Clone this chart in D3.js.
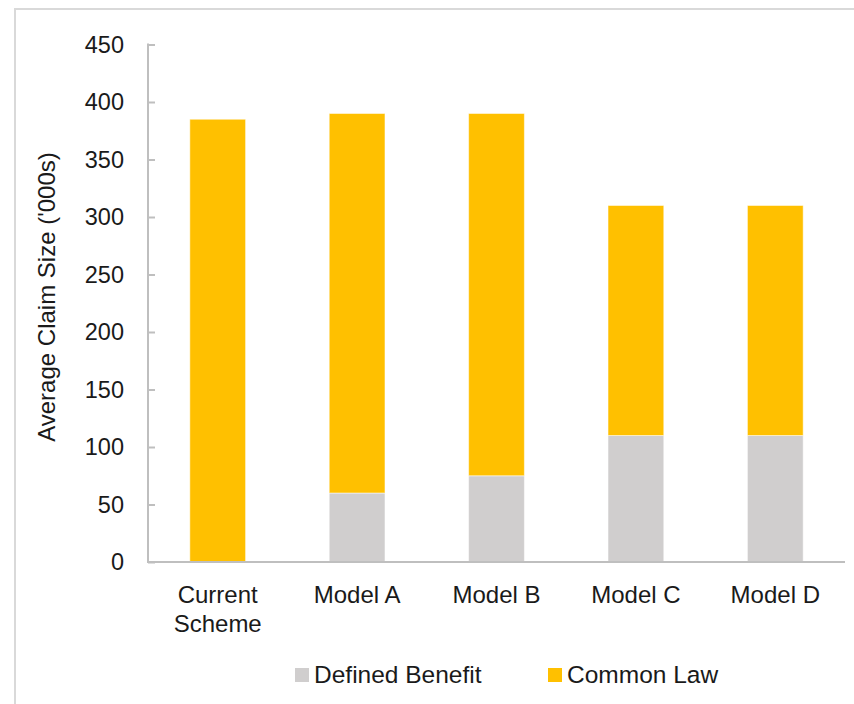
<!DOCTYPE html>
<html>
<head>
<meta charset="utf-8">
<script src="https://cdn.jsdelivr.net/npm/d3@7"></script>
<style>
  html, body { margin: 0; padding: 0; background: #fff; }
  svg { display: block; font-family: "Liberation Sans", Arial, sans-serif; }
</style>
</head>
<body>
<svg id="chart" width="854" height="704"></svg>
<script>
const categories = [["Current", "Scheme"], ["Model A"], ["Model B"], ["Model C"], ["Model D"]];
const seriesNames = ["Defined Benefit", "Common Law"];
const definedBenefit = [0, 60, 75, 110, 110];
const commonLaw = [385, 330, 315, 200, 200];
const yTicks = [0, 50, 100, 150, 200, 250, 300, 350, 400, 450];
const colors = ["#D0CECE", "#FFC000"];
const yTitle = "Average Claim Size ('000s)";

(function () {
const svg = d3.select("#chart");
const W = 854, H = 704;
const pLeft = 148, pRight = 845, pTop = 44.5, pBottom = 562;

// outer chart border (clipped on right/bottom)
svg.append("path")
  .attr("d", `M15,${H + 5} L15,9 L${W + 5},9`)
  .attr("fill", "none").attr("stroke", "#d9d9d9").attr("stroke-width", 2);

const keys = categories.map(c => c.join(" "));
const x = d3.scaleBand().domain(keys).range([pLeft, pRight]).paddingInner(0.6).paddingOuter(0.3);
const y = d3.scaleLinear().domain([0, 450]).range([pBottom, pTop]);

const rows = keys.map((k, i) => ({ key: k, db: definedBenefit[i], cl: commonLaw[i] }));
const stacked = d3.stack().keys(["db", "cl"])(rows);

const g = svg.append("g");
stacked.forEach((s, si) => {
  g.selectAll(null).data(s).join("rect")
    .attr("x", d => x(d.data.key))
    .attr("width", x.bandwidth())
    .attr("y", d => y(d[1]))
    .attr("height", d => Math.max(0, y(d[0]) - y(d[1])))
    .attr("fill", colors[si])
    .attr("stroke", "#ffffff").attr("stroke-opacity", 0.5).attr("stroke-width", 1);
});

// y axis
const yAxis = d3.axisRight(y).tickValues(yTicks).tickSize(7).tickFormat("");
const ya = svg.append("g").attr("transform", `translate(${pLeft},0)`).call(yAxis);
ya.select(".domain").remove();
ya.selectAll(".tick line").attr("stroke", "#bfbfbf").attr("stroke-width", 2);
svg.append("line").attr("x1", pLeft).attr("x2", pLeft).attr("y1", pTop - 1).attr("y2", pBottom + 1)
  .attr("stroke", "#bfbfbf").attr("stroke-width", 2);
svg.selectAll(null).data(yTicks).join("text")
  .attr("x", 124).attr("y", d => y(d)).attr("dy", "0.36em")
  .attr("text-anchor", "end").attr("font-size", 23.5).attr("fill", "#1a1a1a")
  .text(d => d);

// x axis
svg.append("line").attr("x1", pLeft - 1).attr("x2", pRight).attr("y1", pBottom).attr("y2", pBottom)
  .attr("stroke", "#bfbfbf").attr("stroke-width", 2);
const xl = svg.selectAll(null).data(categories).join("text")
  .attr("text-anchor", "middle").attr("font-size", 24).attr("fill", "#1a1a1a");
xl.each(function(lines, i) {
  const t = d3.select(this);
  lines.forEach((ln, j) => {
    t.append("tspan").attr("x", x(keys[i]) + x.bandwidth() / 2).attr("y", 603 + j * 29).text(ln);
  });
});

// y title
svg.append("text")
  .attr("transform", `translate(55,297) rotate(-90)`)
  .attr("text-anchor", "middle").attr("font-size", 24).attr("fill", "#1a1a1a")
  .text(yTitle);

// legend
const legendX = [295, 548];
seriesNames.forEach((n, i) => {
  svg.append("rect").attr("x", legendX[i]).attr("y", 668).attr("width", 14).attr("height", 14).attr("fill", colors[i]);
  svg.append("text").attr("x", legendX[i] + 19).attr("y", 683).attr("font-size", 24.5).attr("fill", "#1a1a1a").text(n);
});
})();
</script>
</body>
</html>
